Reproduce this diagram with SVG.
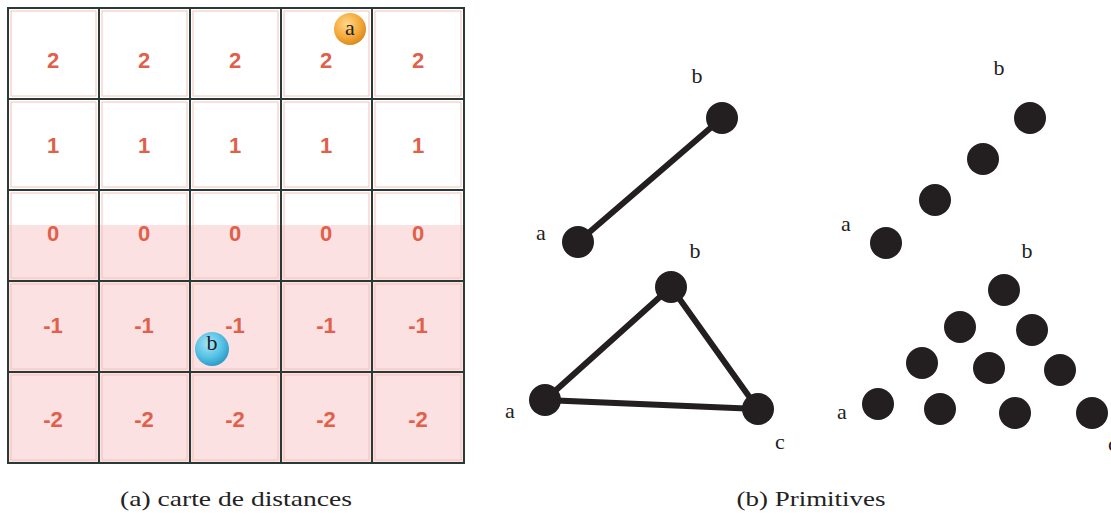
<svg xmlns="http://www.w3.org/2000/svg" width="1111" height="515" viewBox="0 0 1111 515">
<defs>
<radialGradient id="gOrange" cx="0.4" cy="0.35" r="0.7">
<stop offset="0" stop-color="#ffd98a"/>
<stop offset="0.6" stop-color="#f5a93a"/>
<stop offset="1" stop-color="#d98418"/>
</radialGradient>
<radialGradient id="gBlue" cx="0.4" cy="0.35" r="0.7">
<stop offset="0" stop-color="#a8e6f6"/>
<stop offset="0.6" stop-color="#52c0e4"/>
<stop offset="1" stop-color="#2796c2"/>
</radialGradient>
<style>
.num{font-family:"Liberation Sans",Arial,sans-serif;font-weight:bold;font-size:22px;fill:#e0604a;text-anchor:middle;dominant-baseline:central}
.grid{stroke:#2b3838;stroke-width:2;fill:none}
.inner{stroke:#f2c4b8;stroke-width:1;fill:none}
.lbl{font-family:"Liberation Serif","Times New Roman",serif;font-size:22px;fill:#222;text-anchor:middle}
.cap{font-family:"Liberation Serif","Times New Roman",serif;font-size:22px;fill:#222;text-anchor:middle}
.dot{fill:#231f20}
.edge{stroke:#231f20;stroke-width:6;stroke-linecap:round;fill:none}
</style>
</defs>
<rect width="1111" height="515" fill="#ffffff"/>
<g id="distance-map">
<rect x="8" y="225" width="456" height="238" fill="#fce1e3"/>
<g class="inner">
<rect x="11" y="11" width="85" height="85"/><rect x="102" y="11" width="85" height="85"/><rect x="193" y="11" width="85" height="85"/><rect x="284" y="11" width="85" height="85"/><rect x="375" y="11" width="86" height="85"/>
<rect x="11" y="102" width="85" height="85"/><rect x="102" y="102" width="85" height="85"/><rect x="193" y="102" width="85" height="85"/><rect x="284" y="102" width="85" height="85"/><rect x="375" y="102" width="86" height="85"/>
<rect x="11" y="193" width="85" height="85"/><rect x="102" y="193" width="85" height="85"/><rect x="193" y="193" width="85" height="85"/><rect x="284" y="193" width="85" height="85"/><rect x="375" y="193" width="86" height="85"/>
<rect x="11" y="284" width="85" height="85"/><rect x="102" y="284" width="85" height="85"/><rect x="193" y="284" width="85" height="85"/><rect x="284" y="284" width="85" height="85"/><rect x="375" y="284" width="86" height="85"/>
<rect x="11" y="375" width="85" height="85"/><rect x="102" y="375" width="85" height="85"/><rect x="193" y="375" width="85" height="85"/><rect x="284" y="375" width="85" height="85"/><rect x="375" y="375" width="86" height="85"/>
</g>
<g class="grid">
<rect x="8" y="8" width="456" height="455"/>
<path d="M99 8V463M190 8V463M281 8V463M372 8V463M8 99H464M8 190H464M8 281H464M8 372H464"/>
</g>
<g>
<text class="num" x="53" y="60">2</text><text class="num" x="144" y="60">2</text><text class="num" x="235" y="60">2</text><text class="num" x="326" y="60">2</text><text class="num" x="418" y="60">2</text>
<text class="num" x="53" y="145">1</text><text class="num" x="144" y="145">1</text><text class="num" x="235" y="145">1</text><text class="num" x="326" y="145">1</text><text class="num" x="418" y="145">1</text>
<text class="num" x="53" y="233">0</text><text class="num" x="144" y="233">0</text><text class="num" x="235" y="233">0</text><text class="num" x="326" y="233">0</text><text class="num" x="418" y="233">0</text>
<text class="num" x="53" y="325">-1</text><text class="num" x="144" y="325">-1</text><text class="num" x="235" y="325">-1</text><text class="num" x="326" y="325">-1</text><text class="num" x="418" y="325">-1</text>
<text class="num" x="53" y="419">-2</text><text class="num" x="144" y="419">-2</text><text class="num" x="235" y="419">-2</text><text class="num" x="326" y="419">-2</text><text class="num" x="418" y="419">-2</text>
</g>
</g>
<g id="ball-a">
<circle cx="350" cy="29" r="16" fill="url(#gOrange)"/>
<text class="lbl" x="350" y="35">a</text>
</g>
<g id="ball-b">
<circle cx="212" cy="349" r="17" fill="url(#gBlue)"/>
<text class="lbl" x="212" y="350">b</text>
</g>
<g id="connectors">
<line class="edge" x1="578" y1="242" x2="722" y2="118"/>
<path class="edge" d="M545 400L671 287L758 409Z"/>
</g>
<g id="segment">
<circle class="dot" cx="578" cy="242" r="16"/>
<circle class="dot" cx="722" cy="118" r="16"/>
<text class="lbl" x="541" y="240">a</text>
<text class="lbl" x="697" y="83">b</text>
</g>
<g id="triangle">
<circle class="dot" cx="545" cy="400" r="16"/>
<circle class="dot" cx="671" cy="287" r="16"/>
<circle class="dot" cx="758" cy="409" r="16"/>
<text class="lbl" x="510" y="418">a</text>
<text class="lbl" x="695" y="258">b</text>
<text class="lbl" x="780" y="449">c</text>
</g>
<g id="dotted-segment">
<circle class="dot" cx="886" cy="243" r="16"/>
<circle class="dot" cx="935" cy="200" r="16"/>
<circle class="dot" cx="983" cy="159" r="16"/>
<circle class="dot" cx="1030" cy="118" r="16"/>
<text class="lbl" x="846" y="231">a</text>
<text class="lbl" x="999" y="75">b</text>
</g>
<g id="dotted-triangle">
<circle class="dot" cx="1004" cy="290" r="16"/>
<circle class="dot" cx="960" cy="327" r="16"/>
<circle class="dot" cx="1032" cy="330" r="16"/>
<circle class="dot" cx="922" cy="363" r="16"/>
<circle class="dot" cx="989" cy="368" r="16"/>
<circle class="dot" cx="1060" cy="370" r="16"/>
<circle class="dot" cx="878" cy="404" r="16"/>
<circle class="dot" cx="940" cy="409" r="16"/>
<circle class="dot" cx="1015" cy="413" r="16"/>
<circle class="dot" cx="1092" cy="413" r="16"/>
<text class="lbl" x="842" y="419">a</text>
<text class="lbl" x="1027" y="258">b</text>
<text class="lbl" x="1113" y="451">c</text>
</g>
<g id="captions">
<text class="cap" x="236" y="506" textLength="232" lengthAdjust="spacingAndGlyphs">(a) carte de distances</text>
<text class="cap" x="811" y="506" textLength="149" lengthAdjust="spacingAndGlyphs">(b) Primitives</text>
</g>
</svg>
